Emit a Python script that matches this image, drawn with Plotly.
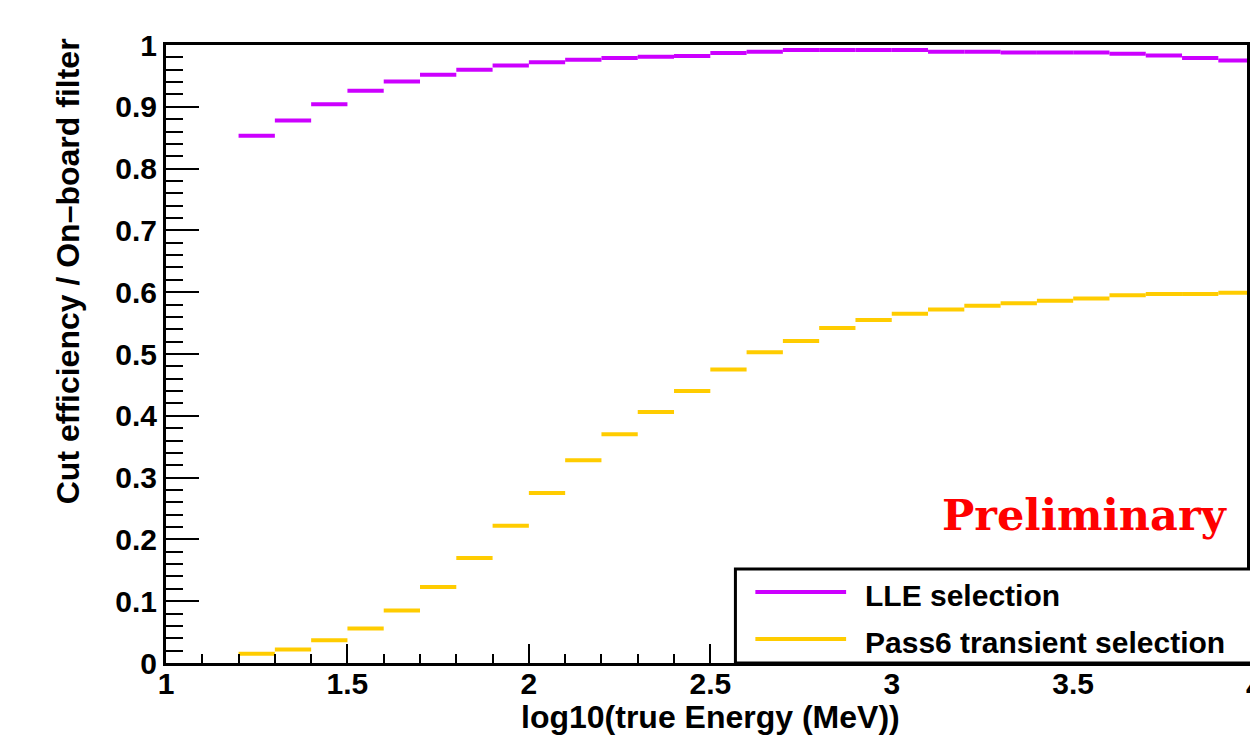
import plotly.graph_objects as go

# Histogram bin edges in log10(true Energy / MeV)
bin_edges = [1.2, 1.3, 1.4, 1.5, 1.6, 1.7, 1.8, 1.9, 2.0, 2.1, 2.2, 2.3, 2.4, 2.5,
             2.6, 2.7, 2.8, 2.9, 3.0, 3.1, 3.2, 3.3, 3.4, 3.5, 3.6, 3.7, 3.8, 3.9, 4.0]

# Cut efficiency relative to the on-board filter, one value per bin
lle_eff = [0.853, 0.878, 0.904, 0.926, 0.941, 0.952, 0.960, 0.967, 0.972, 0.976,
           0.979, 0.981, 0.982, 0.987, 0.989, 0.992, 0.992, 0.992, 0.992, 0.989,
           0.989, 0.988, 0.988, 0.988, 0.986, 0.983, 0.979, 0.975]
pass6_eff = [0.015, 0.022, 0.037, 0.056, 0.085, 0.123, 0.170, 0.222, 0.275, 0.328,
             0.370, 0.406, 0.440, 0.475, 0.503, 0.521, 0.542, 0.555, 0.565, 0.572,
             0.578, 0.582, 0.586, 0.590, 0.595, 0.597, 0.597, 0.599]

series_names = ["LLE selection", "Pass6 transient selection"]
series_colors = ["#cc00ff", "#ffcc00"]

SANS = "Liberation Sans, Arial, Helvetica, sans-serif"
W, H = 1250, 745
L, R, T, B = 166, 0, 45, 82
X_RANGE = [1, 3.979]


def px_to_paper_x(px):
    return (px - L) / (W - L - R)


def px_to_paper_y(py):
    return (H - B - py) / (H - T - B)


def bin_segments(edges, values):
    """Flat horizontal segment per bin, no vertical connectors."""
    xs, ys = [], []
    for i, v in enumerate(values):
        xs += [edges[i], edges[i + 1], None]
        ys += [v, v, None]
    return xs, ys


fig = go.Figure()
for name, vals, col in zip(series_names, [lle_eff, pass6_eff], series_colors):
    xs, ys = bin_segments(bin_edges, vals)
    fig.add_trace(go.Scatter(x=xs, y=ys, mode="lines", name=name,
                             line=dict(color=col, width=4), showlegend=False,
                             connectgaps=False))

tickfont = dict(family=SANS, size=30, color="black", weight="bold")

fig.update_xaxes(
    range=X_RANGE, showline=True, linewidth=3, linecolor="black", mirror=True,
    ticks="inside", ticklen=19, tickwidth=2, tickcolor="black",
    tick0=1, dtick=0.5, showgrid=False, zeroline=False, tickfont=tickfont,
    ticklabelstandoff=-8,
    minor=dict(dtick=0.1, tick0=1, ticks="inside", ticklen=9, tickwidth=2,
               tickcolor="black", showgrid=False),
)
fig.update_yaxes(
    range=[0, 1], showline=True, linewidth=3, linecolor="black", mirror=True,
    ticks="inside", ticklen=33, tickwidth=2, tickcolor="black",
    tick0=0, dtick=0.1, showgrid=False, zeroline=False, tickfont=tickfont,
    minor=dict(dtick=0.02, tick0=0, ticks="inside", ticklen=17, tickwidth=2,
               tickcolor="black", showgrid=False),
)

annotations = [
    # axis titles
    dict(text="Cut efficiency / On\u2013board filter", textangle=-90,
         xref="paper", yref="paper", x=px_to_paper_x(68), y=px_to_paper_y(36),
         xanchor="center", yanchor="top", showarrow=False,
         font=dict(family=SANS, size=32, color="black", weight="bold")),
    dict(text="log10(true Energy (MeV))",
         xref="paper", yref="paper", x=px_to_paper_x(712), y=px_to_paper_y(717),
         xanchor="center", yanchor="middle", showarrow=False,
         font=dict(family=SANS, size=32, color="black", weight="bold")),
    # tick label at the axis end
    dict(text="4", xref="paper", yref="paper",
         x=(4 - X_RANGE[0]) / (X_RANGE[1] - X_RANGE[0]), y=px_to_paper_y(668),
         xanchor="center", yanchor="top", showarrow=False, font=tickfont),
    # watermark
    dict(text="Preliminary", xref="paper", yref="paper",
         x=px_to_paper_x(942), y=px_to_paper_y(515),
         xanchor="left", yanchor="middle", showarrow=False,
         font=dict(family="DejaVu Serif, serif", size=43, color="#ff0000",
                   weight="bold")),
]

shapes = [
    # legend box
    dict(type="rect", xref="paper", yref="paper",
         x0=px_to_paper_x(737), x1=1.1, y0=0, y1=px_to_paper_y(569),
         line=dict(color="black", width=3), fillcolor="white", layer="above"),
]

legend_rows = [592, 639]
for name, col, ry in zip(series_names, series_colors, legend_rows):
    shapes.append(dict(type="line", xref="paper", yref="paper",
                       x0=px_to_paper_x(757), x1=px_to_paper_x(848),
                       y0=px_to_paper_y(ry), y1=px_to_paper_y(ry),
                       line=dict(color=col, width=4), layer="above"))
    annotations.append(dict(text=name, xref="paper", yref="paper",
                            x=px_to_paper_x(865), y=px_to_paper_y(ry + 3),
                            xanchor="left", yanchor="middle", showarrow=False,
                            font=dict(family=SANS, size=30, color="black",
                                      weight="bold")))

fig.update_layout(
    width=W, height=H,
    margin=dict(l=L, r=R, t=T, b=B, pad=0),
    paper_bgcolor="white", plot_bgcolor="white",
    showlegend=False,
    annotations=annotations, shapes=shapes,
)

fig.write_html("out.html")
